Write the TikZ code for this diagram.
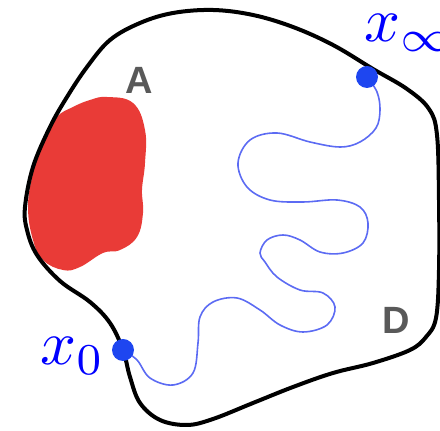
\documentclass[tikz,border=0pt]{standalone}
\usepackage{fontspec}
\setsansfont{Liberation Sans}
\begin{document}
\begin{tikzpicture}[x=0.5pt,y=-0.5pt,
  boundary/.style={line width=2pt, black, line join=round},
  region/.style={fill=myred, draw=none},
  walk/.style={draw=myblue!80, line width=0.8pt},
  dot/.style={circle, fill=dotblue, inner sep=0pt, minimum size=11pt},
  mathlabel/.style={text=blue, inner sep=0pt, font=\fontsize{10}{12}\selectfont},
  letter/.style={text=black!65, inner sep=0pt, font=\fontsize{19}{22}\selectfont\sffamily\bfseries}
]
\definecolor{myred}{HTML}{E93B37}
\definecolor{myblue}{HTML}{3346F0}
\definecolor{dotblue}{HTML}{1E46F0}
\useasboundingbox (0,0) rectangle (440,431);
\clip (0,0) rectangle (440,431);

% red region A
\fill[region] plot[smooth cycle, tension=0.7] coordinates {
 (107,97) (133,103) (145,130) (145,163) (142,190) (143,213) (137,237)
 (120,250) (103,253) (80,267) (63,270) (43,260) (33,240) (28,207)
 (33,173) (43,140) (57,117) (73,107) (90,100)};

% boundary of D
\draw[boundary] plot[smooth cycle, tension=0.6] coordinates {
 (25,207) (33,167) (50,127) (67,97) (87,67) (110,40) (140,23) (173,13)
 (213,10) (253,15) (293,27) (333,45) (373,69) (407,89) (429,109) (437,135)
 (439,200) (439,270) (436,318) (426,337) (410,350) (373,363) (333,373)
 (293,387) (253,403) (213,419) (187,425) (160,420) (140,403) (130,377)
 (123,350) (110,323) (90,302) (60,281) (37,255) (27,230)};

\coordinate (start) at (123,350);
\coordinate (end) at (367,77);

% random walk
\draw[walk] plot[smooth, tension=0.6] coordinates {
 (start) (137,360) (150,378) (173,385) (193,373) (198,343) (200,317)
 (213,302) (237,298) (260,310) (280,325) (303,332) (327,325) (335,307)
 (323,293) (300,290) (277,277) (265,262) (260,253) (267,240) (283,235)
 (300,240) (320,252) (343,253) (363,243) (368,223) (360,207) (337,200)
 (303,202) (270,200) (247,187) (238,163) (250,140) (277,133) (310,142)
 (340,147) (360,142) (376,128) (380,110) (377,92) (end)};

\node[dot] (x0) at (start) {};
\node[dot] (xinf) at (end) {};

\node[mathlabel, anchor=base west] (lx0) at (40,365) {\scalebox{3.15}{$x_0$}};
\node[mathlabel, anchor=base west] (lxinf) at (364,42) {\scalebox{3.15}{$x_\infty$}};
\node[letter] (A) at (139,80) {A};
\node[letter] (D) at (396,320) {D};
\end{tikzpicture}
\end{document}
